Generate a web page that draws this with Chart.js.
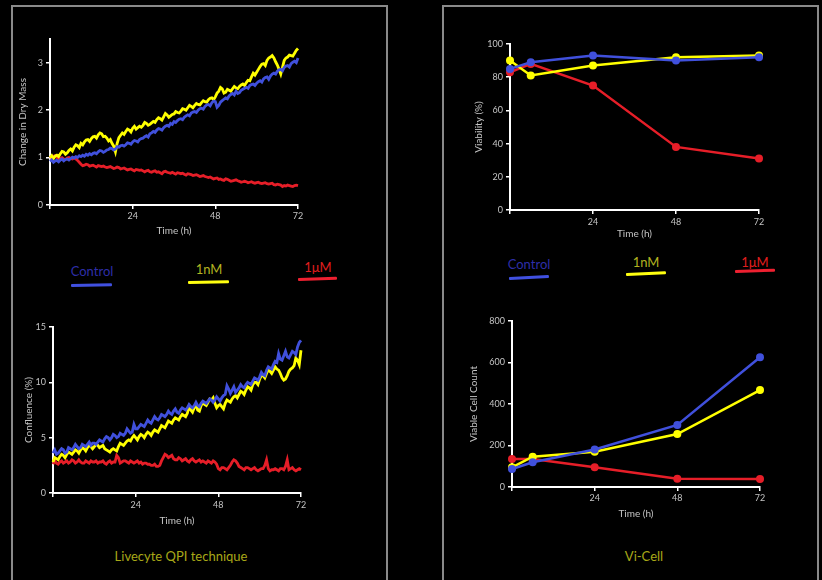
<!DOCTYPE html>
<html><head><meta charset="utf-8">
<script src="https://cdn.jsdelivr.net/npm/chart.js@4.4.1/dist/chart.umd.min.js"></script>
<style>
html,body{margin:0;padding:0;background:#000;width:822px;height:580px;overflow:hidden;font-family:Lato,sans-serif}
canvas{position:absolute;left:0;top:0}
.panel{position:absolute;border:2px solid #8a8a8a;border-bottom:none;box-sizing:border-box}
.lab{position:absolute;transform:translate(-50%,-50%);white-space:nowrap;font-size:13px;line-height:1}
.ln{position:absolute;height:3px;border-radius:1px;transform-origin:0 50%}
</style></head><body>
<div class="panel" style="left:11px;top:5px;width:377px;height:600px"></div>
<div class="panel" style="left:442px;top:5px;width:377px;height:600px"></div>

<div class="lab" style="left:92px;top:271px;color:#2e2ea8">Control</div>
<div class="lab" style="left:209px;top:269px;color:#b4b420">1nM</div>
<div class="lab" style="left:318px;top:267px;color:#e01e1e">1μM</div>
<div class="ln" style="left:71px;top:284px;width:41px;background:#4050e0;transform:rotate(-1.2deg)"></div>
<div class="ln" style="left:188px;top:281px;width:41px;background:#ffff10;transform:rotate(-1.2deg)"></div>
<div class="ln" style="left:298px;top:278px;width:39px;background:#ee2030;transform:rotate(-2deg)"></div>

<div class="lab" style="left:529px;top:264px;color:#2e2ea8">Control</div>
<div class="lab" style="left:646px;top:262px;color:#b4b420">1nM</div>
<div class="lab" style="left:755px;top:262px;color:#e01e1e">1μM</div>
<div class="ln" style="left:509px;top:277px;width:40px;background:#4050e0;transform:rotate(-3deg)"></div>
<div class="ln" style="left:626px;top:273px;width:40px;background:#ffff10;transform:rotate(-2.5deg)"></div>
<div class="ln" style="left:735px;top:270px;width:40px;background:#ee2030;transform:rotate(-2deg)"></div>

<div class="lab" style="left:181px;top:556px;color:#a8a818">Livecyte QPI technique</div>
<div class="lab" style="left:644px;top:556px;color:#a8a818">Vi-Cell</div>

<canvas id="c1" width="822" height="580"></canvas>
<canvas id="c2" width="822" height="580"></canvas>
<canvas id="c3" width="822" height="580"></canvas>
<canvas id="c4" width="822" height="580"></canvas>
<script>
const seriesNames = ['Control', '1nM', '1μM'];
const colors = ['#4050dc', '#ffff00', '#e61e28'];

const hours = [0,1,2,3,4,5,6,7,8,9,10,11,12,13,14,15,16,17,18,19,20,21,22,23,24,25,26,27,28,29,30,31,32,33,34,35,36,37,38,39,40,41,42,43,44,45,46,47,48,49,50,51,52,53,54,55,56,57,58,59,60,61,62,63,64,65,66,67,68,69,70,71,72];
const halfHours = [0.5,1.5,2.5,3.5,4.5,5.5,6.5,7.5,8.5,9.5,10.5,11.5,12.5,13.5,14.5,15.5,16.5,17.5,18.5,19.5,20.5,21.5,22.5,23.5,24.5,25.5,26.5,27.5,28.5,29.5,30.5,31.5,32.5,33.5,34.5,35.5,36.5,37.5,38.5,39.5,40.5,41.5,42.5,43.5,44.5,45.5,46.5,47.5,48.5,49.5,50.5,51.5,52.5,53.5,54.5,55.5,56.5,57.5,58.5,59.5,60.5,61.5,62.5,63.5,64.5,65.5,66.5,67.5,68.5,69.5,70.5,71.5];

// Change in dry mass (readings on the hour, and on the half hour)
const dryMassControl = [0.92,0.90,0.94,0.95,0.93,0.97,0.98,0.99,1.00,1.02,1.03,1.05,1.06,1.10,1.12,1.14,1.13,1.17,1.19,1.18,1.22,1.26,1.27,1.30,1.33,1.35,1.38,1.41,1.46,1.50,1.55,1.58,1.60,1.63,1.68,1.72,1.76,1.78,1.82,1.85,1.90,1.94,1.97,2.00,2.04,2.08,2.12,2.16,2.18,2.10,2.20,2.26,2.30,2.35,2.40,2.37,2.44,2.48,2.52,2.55,2.57,2.62,2.66,2.70,2.72,2.78,2.82,2.86,2.90,2.94,2.98,3.03,3.10];
const dryMassControlHalf = [0.95,0.93,0.91,0.97,0.96,0.95,1.01,1.02,1.04,1.05,1.07,1.08,1.09,1.08,1.15,1.11,1.16,1.20,1.16,1.23,1.25,1.24,1.31,1.28,1.36,1.33,1.40,1.44,1.43,1.52,1.53,1.61,1.58,1.66,1.66,1.70,1.74,1.81,1.80,1.88,1.88,1.96,1.95,2.03,2.02,2.11,2.09,2.19,2.06,2.17,2.23,2.24,2.33,2.32,2.35,2.42,2.46,2.46,2.54,2.52,2.60,2.59,2.69,2.65,2.76,2.76,2.85,2.83,2.93,2.91,3.01,3.00];
const dryMass1nM = [1.00,0.98,1.05,1.08,1.12,1.10,1.18,1.22,1.25,1.30,1.33,1.38,1.40,1.45,1.48,1.50,1.45,1.35,1.30,1.12,1.42,1.52,1.55,1.58,1.62,1.60,1.66,1.68,1.72,1.70,1.76,1.80,1.82,1.86,1.90,1.88,1.92,1.95,1.98,2.02,2.05,2.08,2.10,2.12,2.16,2.18,2.22,2.26,2.28,2.40,2.45,2.38,2.42,2.45,2.47,2.50,2.55,2.58,2.62,2.78,2.80,2.92,2.98,3.05,3.12,3.10,2.95,2.76,3.05,3.12,3.15,3.20,3.30];
const dryMass1nMHalf = [1.04,1.03,1.02,1.13,1.07,1.15,1.14,1.27,1.21,1.27,1.37,1.34,1.44,1.41,1.52,1.44,1.41,1.38,1.24,1.30,1.47,1.49,1.60,1.54,1.66,1.63,1.64,1.74,1.68,1.73,1.74,1.84,1.79,1.93,1.85,1.91,1.97,1.94,2.03,2.00,2.10,2.05,2.14,2.11,2.20,2.17,2.25,2.22,2.36,2.48,2.36,2.44,2.40,2.50,2.45,2.53,2.52,2.63,2.70,2.74,2.86,2.97,2.94,3.10,3.15,3.02,2.86,2.90,3.10,3.16,3.14,3.26];
const dryMass1uM = [1.02,1.03,1.00,0.98,0.97,0.99,0.98,1.00,0.94,0.86,0.84,0.85,0.83,0.82,0.83,0.81,0.80,0.80,0.79,0.78,0.79,0.77,0.76,0.75,0.74,0.75,0.73,0.72,0.72,0.70,0.71,0.69,0.68,0.70,0.69,0.67,0.67,0.68,0.66,0.65,0.66,0.64,0.63,0.62,0.61,0.60,0.58,0.57,0.56,0.54,0.53,0.55,0.52,0.51,0.53,0.50,0.49,0.49,0.48,0.47,0.47,0.46,0.46,0.45,0.45,0.43,0.44,0.42,0.41,0.42,0.40,0.41,0.41];
const dryMass1uMHalf = [1.00,1.04,0.97,1.00,0.96,1.00,0.97,0.97,0.90,0.83,0.86,0.82,0.84,0.80,0.82,0.82,0.79,0.81,0.77,0.80,0.76,0.78,0.74,0.76,0.72,0.74,0.74,0.70,0.73,0.69,0.72,0.70,0.66,0.71,0.68,0.69,0.65,0.67,0.67,0.63,0.65,0.62,0.64,0.60,0.62,0.59,0.59,0.55,0.57,0.55,0.52,0.54,0.50,0.52,0.51,0.48,0.50,0.47,0.49,0.46,0.48,0.45,0.47,0.44,0.46,0.42,0.43,0.39,0.40,0.41,0.39,0.42];

// Confluence (%)
const confControl = [3.6,3.5,3.8,3.9,3.7,4.0,4.1,4.2,4.1,4.3,4.4,4.3,4.5,4.6,4.7,4.9,5.0,5.0,5.2,5.1,5.3,5.4,5.6,5.5,5.8,6.0,6.1,6.3,6.4,6.6,6.7,6.8,7.0,7.1,7.2,7.4,7.3,7.5,7.6,7.7,7.8,7.9,7.9,8.1,8.2,8.3,8.4,8.4,8.5,8.6,8.9,9.4,9.3,9.1,9.5,9.6,9.8,9.9,10.1,10.3,10.5,10.7,11.1,11.3,11.6,11.8,12.1,12.4,12.3,12.5,12.7,13.2,13.8];
const confControlHalf = [3.9,3.6,4.0,3.6,4.1,3.9,4.4,4.0,4.4,4.2,4.6,4.5,4.4,4.8,4.6,5.1,4.8,5.3,5.0,5.4,5.2,5.8,5.4,6.2,5.8,6.2,6.0,6.6,6.3,6.9,6.6,7.1,6.9,7.4,7.1,7.6,7.2,7.7,7.5,8.0,7.7,8.2,7.8,8.3,8.1,8.5,8.2,8.7,8.3,8.8,9.7,9.0,9.6,9.3,9.8,9.5,10.0,9.8,10.4,10.2,10.9,10.6,11.4,11.2,11.9,12.6,12.0,12.8,12.2,12.8,12.5,13.6];
const conf1nM = [2.8,3.1,3.3,3.4,3.5,3.6,3.7,3.8,3.9,4.0,4.1,4.2,4.2,4.3,4.2,4.0,3.8,3.9,3.9,4.2,4.4,4.5,4.8,5.0,5.0,5.1,5.2,5.3,5.4,5.5,5.6,5.8,6.0,6.2,6.4,6.6,6.7,6.9,7.0,7.2,7.5,7.7,7.5,7.9,8.0,8.2,8.4,8.1,7.9,7.8,8.1,8.3,8.5,8.8,8.9,9.1,9.3,9.5,9.8,10.0,10.3,10.6,10.8,11.0,11.1,11.2,10.8,10.2,10.6,11.2,11.5,12.0,12.9];
const conf1nMHalf = [3.2,3.0,3.5,3.2,3.7,3.5,3.9,3.6,4.1,3.8,4.3,4.0,4.4,4.1,4.3,3.9,3.7,4.0,3.8,4.5,4.3,4.7,4.7,5.2,4.8,5.3,5.0,5.5,5.2,5.7,5.5,6.1,5.9,6.5,6.3,6.8,6.6,7.1,6.9,7.8,7.3,8.0,7.4,8.2,7.9,8.5,8.6,7.7,8.0,7.6,8.4,8.2,8.7,8.6,9.2,8.9,9.6,9.3,10.0,9.8,10.6,10.4,11.1,10.8,11.4,11.1,10.4,10.3,11.0,11.3,12.2,11.6];
const conf1uM = [2.6,2.7,2.8,2.7,2.9,2.8,2.9,2.8,2.8,2.7,2.8,2.9,2.8,2.7,2.8,2.7,2.8,2.7,2.8,3.2,2.8,2.9,2.7,2.8,2.8,2.7,2.6,2.7,2.6,2.5,2.4,2.5,3.2,3.4,3.3,3.1,3.0,3.1,3.0,2.9,3.0,2.9,2.9,2.8,2.8,2.9,2.7,2.8,2.2,2.3,2.2,2.3,2.8,2.9,2.4,2.2,2.3,2.2,2.2,2.1,2.1,2.2,3.0,2.0,2.1,2.1,2.2,2.1,3.0,2.2,2.1,2.1,2.1];
const conf1uMHalf = [2.9,2.6,2.9,2.8,2.7,3.0,2.7,3.0,2.7,2.9,2.7,2.8,2.9,2.8,2.9,2.6,2.9,2.8,3.4,2.7,2.9,2.8,2.9,2.7,2.9,2.8,2.7,2.6,2.5,2.6,2.4,2.9,3.5,3.2,3.4,3.0,3.2,2.9,3.1,2.8,3.1,2.8,3.0,2.9,2.7,2.8,2.9,2.6,2.1,2.3,2.1,2.5,3.0,2.7,2.3,2.1,2.3,2.1,2.3,2.0,2.2,2.5,2.2,2.1,2.2,2.0,2.2,2.4,2.1,2.3,2.0,2.2];

// Vi-Cell samples
const sampleHours = [0, 6, 24, 48, 72];
const viabControl = [85, 89, 93, 90, 92];
const viab1nM = [90, 81, 87, 92, 93];
const viab1uM = [83, 88, 75, 38, 31];
const countControl = [87, 119, 181, 299, 625];
const count1nM = [95, 146, 170, 255, 467];
const count1uM = [135, 135, 95, 40, 39];

const xTicks = [0, 24, 48, 72];
const yTicksDry = [0, 1, 2, 3];
const yTicksViab = [0, 20, 40, 60, 80, 100];
const yTicksConf = [0, 5, 10, 15];
const yTicksCount = [0, 200, 400, 600, 800];

const W = 822, H = 580;
const tickFont = {family: 'Lato', size: 9};
const titleFont = {family: 'Lato', size: 10};
const grey = '#c4c4c4';

function pts(xs, ys) { return xs.map((x, i) => ({x: x, y: ys[i]})); }
function merged(a, b) { return pts(hours, a).concat(pts(halfHours, b)).sort((p, q) => p.x - q.x); }

function makeChart(id, o) {
  const datasets = o.series.map((s, i) => ({
    label: seriesNames[i],
    data: s,
    borderColor: colors[i],
    backgroundColor: colors[i],
    borderWidth: o.markers ? 2.5 : 2.8,
    pointRadius: o.markers ? 4 : 0,
    pointBorderWidth: 0,
    tension: 0,
    clip: false
  }));
  return new Chart(document.getElementById(id), {
    type: 'line',
    data: {datasets},
    options: {
      responsive: false, animation: false, events: [],
      layout: {padding: {left: o.L - o.yW, top: o.T, right: W - o.R, bottom: H - o.B - o.xH}},
      plugins: {legend: {display: false}, tooltip: {enabled: false}},
      scales: {
        x: {
          type: 'linear', min: 0, max: 72,
          afterBuildTicks: s => { s.ticks = xTicks.map(v => ({value: v})); },
          afterFit: s => { s.height = o.xH; },
          grid: {drawOnChartArea: false, drawTicks: true, tickLength: 4, color: '#ffffff', lineWidth: 1.5},
          border: {display: true, color: '#ffffff', width: 2},
          ticks: {color: grey, font: tickFont, padding: o.xp, maxRotation: 0, autoSkip: false,
                  callback: v => v === 0 ? '' : String(v)},
          title: {display: true, text: 'Time (h)', color: grey, font: titleFont, padding: 0}
        },
        y: {
          type: 'linear', min: 0, max: o.ymax,
          afterBuildTicks: s => { s.ticks = o.yTicks.map(v => ({value: v})); },
          afterFit: s => { s.width = o.yW; },
          grid: {drawOnChartArea: false, drawTicks: true, tickLength: 4, color: '#ffffff', lineWidth: 1.5},
          border: {display: true, color: '#ffffff', width: 2},
          ticks: {color: grey, font: tickFont, padding: 3, autoSkip: false},
          title: {display: true, text: o.ytitle, color: grey, font: titleFont, padding: 0}
        }
      }
    }
  });
}

makeChart('c1', {series: [merged(dryMassControl, dryMassControlHalf), merged(dryMass1nM, dryMass1nMHalf), merged(dryMass1uM, dryMass1uMHalf)], markers: false,
  L: 50, R: 298, T: 39, B: 205, yW: 33, xH: 32, xp: 2, ymax: 3.5, yTicks: yTicksDry, ytitle: 'Change in Dry Mass'});
makeChart('c2', {series: [pts(sampleHours, viabControl), pts(sampleHours, viab1nM), pts(sampleHours, viab1uM)], markers: true,
  L: 510, R: 759, T: 44, B: 210, yW: 37, xH: 30, xp: 3, ymax: 100, yTicks: yTicksViab, ytitle: 'Viability (%)'});
makeChart('c3', {series: [merged(confControl, confControlHalf), merged(conf1nM, conf1nMHalf), merged(conf1uM, conf1uMHalf)], markers: false,
  L: 53, R: 301, T: 327, B: 493, yW: 30, xH: 34, xp: 3, ymax: 15, yTicks: yTicksConf, ytitle: 'Confluence (%)'});
makeChart('c4', {series: [pts(sampleHours, countControl), pts(sampleHours, count1nM), pts(sampleHours, count1uM)], markers: true,
  L: 512, R: 760, T: 321, B: 487, yW: 44, xH: 33, xp: 2, ymax: 800, yTicks: yTicksCount, ytitle: 'Viable Cell Count'});
</script>
</body></html>
